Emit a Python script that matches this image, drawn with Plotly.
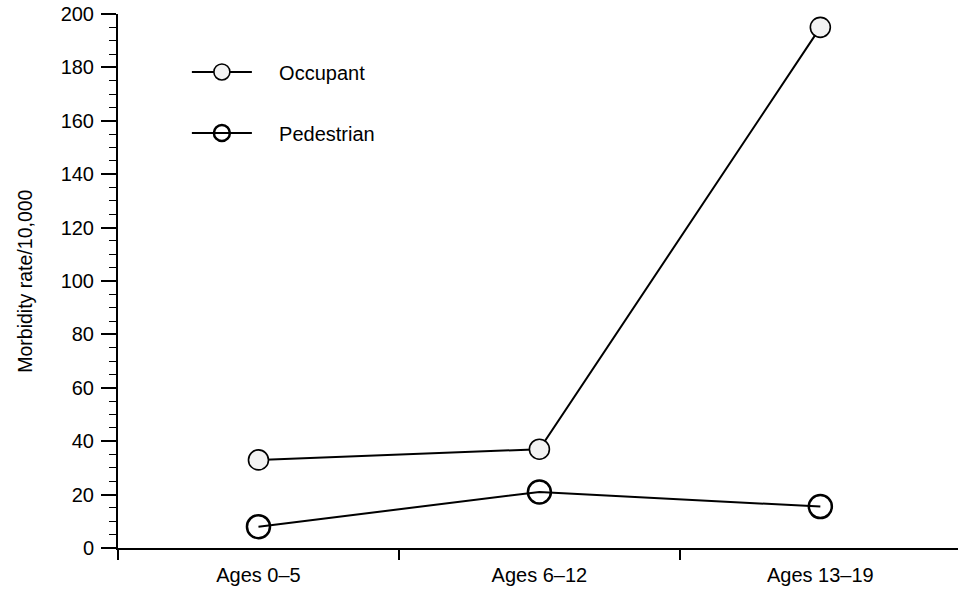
import plotly.graph_objects as go

age_groups = ["Ages 0\u20135", "Ages 6\u201312", "Ages 13\u201319"]
occupant = [33, 37, 195]
pedestrian = [8, 21, 15.5]
y_ticks = [0, 20, 40, 60, 80, 100, 120, 140, 160, 180, 200]

font_family = "Liberation Sans, Arial, sans-serif"
pad = "\u00a0\u00a0\u00a0\u00a0"  # push legend text right of the long key line

fig = go.Figure()
fig.add_trace(go.Scatter(x=age_groups, y=occupant, mode="lines+markers", name=pad + "Occupant", legendgroup="occ",
                         line=dict(color="black", width=2),
                         marker=dict(symbol="circle", size=20, color="#f3f3f3", line=dict(color="black", width=1.6))))
fig.add_trace(go.Scatter(x=age_groups, y=pedestrian, mode="lines+markers", name=pad + "Pedestrian", legendgroup="ped",
                         line=dict(color="black", width=2),
                         marker=dict(symbol="circle-open", size=23, color="black", line=dict(color="black", width=2.5))))

fig.update_layout(
    width=958, height=589, plot_bgcolor="white", paper_bgcolor="white",
    margin=dict(l=118, r=0, t=14, b=41),
    font=dict(family=font_family, color="black"),
    showlegend=True,
    legend=dict(x=0.082, y=0.928, xanchor="left", yanchor="top", bgcolor="rgba(0,0,0,0)",
                font=dict(size=20), traceorder="grouped", tracegroupgap=32, itemwidth=60),
    xaxis=dict(type="category", range=[-0.5, 2.49], tickson="boundaries", ticks="outside", ticklen=10,
               tickwidth=1.5, tickcolor="black", showline=True, linewidth=2, linecolor="black",
               showgrid=False, zeroline=False, tickfont=dict(size=20), ticklabelstandoff=8),
    yaxis=dict(range=[0, 200], tickvals=y_ticks, ticks="outside", ticklen=15, tickwidth=1.5,
               tickcolor="black", showline=True, linewidth=2, linecolor="black", showgrid=False,
               zeroline=False, tickfont=dict(size=20), ticklabelstandoff=3,
               minor=dict(dtick=5, ticks="outside", ticklen=7, tickwidth=1.2, tickcolor="black", showgrid=False)),
    annotations=[dict(text="Morbidity rate/10,000", textangle=-90, xref="paper", yref="paper",
                      x=-0.111, y=0.5, xanchor="center", yanchor="middle", showarrow=False,
                      font=dict(size=19.5))],
)

# the page's default body margin would shift the figure and add scrollbars
fig.write_html("out.html", config={"displayModeBar": False},
               post_script="document.body.style.margin='0';document.body.style.overflow='hidden';")
